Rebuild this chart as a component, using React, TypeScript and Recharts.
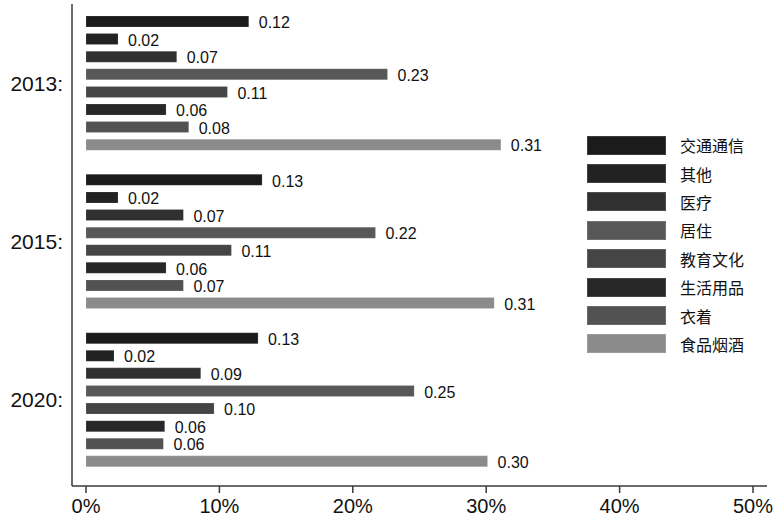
import React from 'react';
import { BarChart, Bar, XAxis, YAxis, Legend, LabelList } from 'recharts';

const years = ['2013:', '2015:', '2020:'];
const categories = ['交通通信', '其他', '医疗', '居住', '教育文化', '生活用品', '衣着', '食品烟酒'];
const colors = ['#1b1b1b', '#222222', '#303030', '#585858', '#454545', '#272727', '#525252', '#8b8b8b'];

// shares per category, same order as categories
const values2013 = [0.122, 0.024, 0.068, 0.226, 0.106, 0.06, 0.077, 0.311];
const values2015 = [0.132, 0.024, 0.073, 0.217, 0.109, 0.06, 0.073, 0.306];
const values2020 = [0.129, 0.021, 0.086, 0.246, 0.096, 0.059, 0.058, 0.301];

const xTicks = [0, 0.1, 0.2, 0.3, 0.4, 0.5];

const rows = [values2013, values2015, values2020].map((vals, i) => {
    const row: any = { year: years[i] };
    categories.forEach((c, j) => { row[c] = vals[j]; });
    return row;
});

const FONT = '"Liberation Sans", Arial, Helvetica, sans-serif';

const LegendBox = ({ payload }: any) => (
    <div>
        {(payload || []).map((entry: any) => (
            <div key={entry.value} style={{ display: 'flex', alignItems: 'center', height: 28.4 }}>
                <div style={{ width: 79, height: 19, background: entry.color, boxShadow: 'inset 0 0 0 1px rgba(255,255,255,0.15)' }} />
                <span style={{ marginLeft: 14, fontSize: 16, color: '#111', fontFamily: '"Noto Sans CJK SC", sans-serif' }}>{entry.value}</span>
            </div>
        ))}
    </div>
);

const App: React.FC = () => {
    return (
        <div style={{ position: 'absolute', left: 0, top: 0, fontFamily: FONT }}>
            <BarChart
                width={776}
                height={523}
                layout="vertical"
                data={rows}
                margin={{ top: 4, right: 9, bottom: 0, left: 0 }}
                barSize={11}
                barGap={6.6}
            >
                <XAxis
                    type="number"
                    domain={[-0.0105, 0.5105]}
                    ticks={xTicks}
                    allowDataOverflow
                    tickFormatter={(v: number) => `${Math.round(v * 100)}%`}
                    height={37}
                    tickSize={7}
                    tickMargin={6}
                    stroke="#3a3a3a"
                    strokeWidth={1.5}
                    tick={{ fill: '#111', fontSize: 20, fontFamily: FONT }}
                />
                <YAxis
                    type="category"
                    dataKey="year"
                    width={72}
                    tickLine={false}
                    tickSize={0}
                    tickMargin={9}
                    padding={{ top: 0, bottom: 7 }}
                    stroke="#3a3a3a"
                    strokeWidth={1.5}
                    tick={{ fill: '#111', fontSize: 21, fontFamily: FONT }}
                />
                <Legend
                    layout="vertical"
                    align="center"
                    verticalAlign="middle"
                    content={<LegendBox />}
                    wrapperStyle={{ left: 587, top: 131, width: 180 }}
                />
                {categories.map((c, i) => (
                    <Bar key={c} dataKey={c} fill={colors[i]} stroke="#ffffff" strokeOpacity={0.15} isAnimationActive={false}>
                        <LabelList
                            dataKey={c}
                            position="right"
                            offset={10}
                            formatter={(v: any) => Number(v).toFixed(2)}
                            fill="#111"
                            fontSize={16}
                            fontFamily={FONT}
                            dy={1}
                        />
                    </Bar>
                ))}
            </BarChart>
        </div>
    );
};

export default App;
